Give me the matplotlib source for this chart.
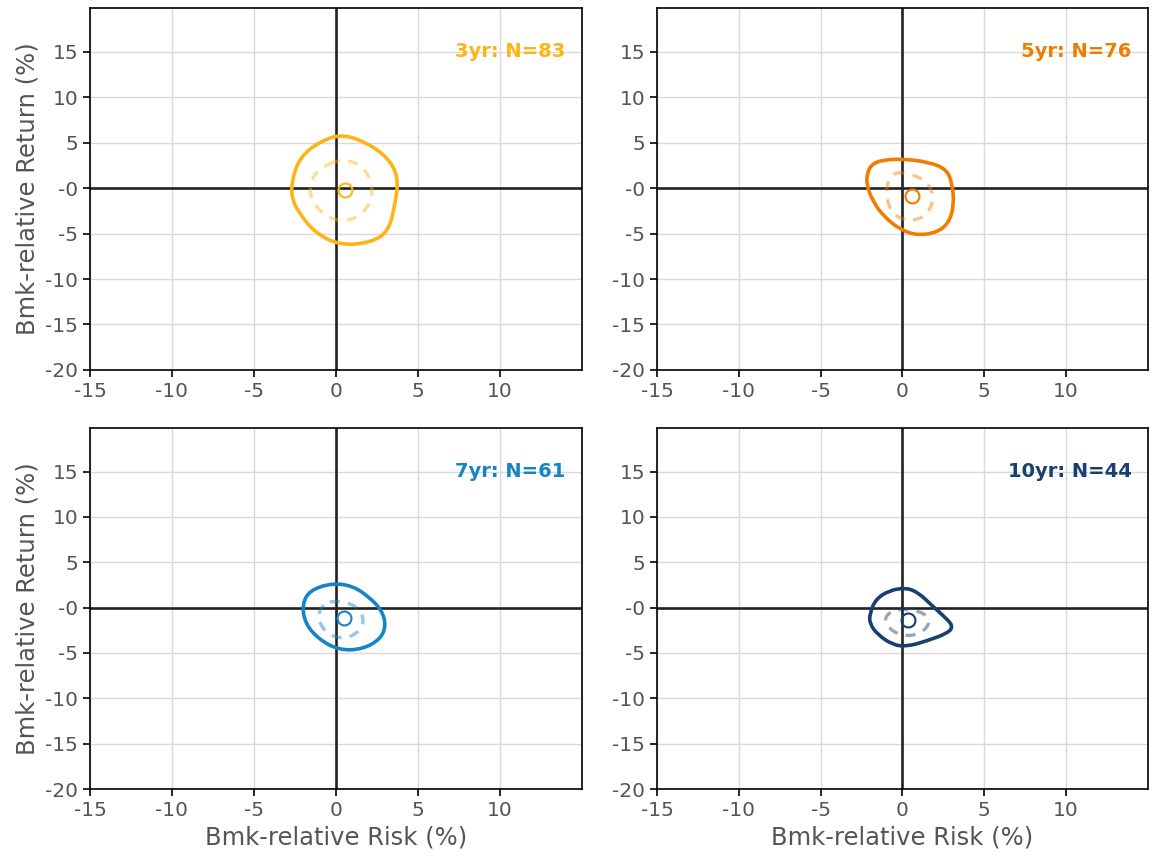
import numpy as np
import matplotlib
matplotlib.use("Agg")
import matplotlib.pyplot as plt
from matplotlib.path import Path
from matplotlib.patches import PathPatch

# panel labels and colours
panels = ["3yr", "5yr", "7yr", "10yr"]
counts = [83, 76, 61, 44]
colors = ["#FDB515", "#F07D00", "#1585C5", "#183F6F"]

# centre of each distribution (risk, return)
center_x = [0.55, 0.6, 0.5, 0.35]
center_y = [-0.2, -0.9, -1.1, -1.4]

# outer contour
outer_x = [
    [0.43, 2.3, 3.4, 3.8, 3.6, 3.2, 2.1, 0.25, -1.3, -2.3, -2.7, -2.7, -2.2, -1.0],
    [0.0, 1.5, 2.7, 3.05, 3.15, 2.85, 2.1, 0.9, -0.1, -1.1, -1.8, -2.2, -2.15, -1.9, -1.2],
    [-0.25, 1.0, 2.0, 2.8, 3.05, 2.7, 1.6, 0.2, -1.05, -1.9, -2.05, -1.6],
    [0.25, 1.0, 1.7, 2.5, 3.1, 2.8, 1.45, 0.25, -0.6, -1.5, -2.0, -2.0, -1.65, -0.8],
]
outer_y = [
    [6.0, 4.6, 2.8, 0.8, -1.8, -4.8, -6.0, -6.3, -4.9, -2.6, -1.1, 0.8, 3.4, 5.1],
    [3.2, 2.9, 2.1, 0.4, -1.8, -3.8, -4.9, -5.2, -4.6, -3.2, -1.5, 0.4, 1.6, 2.6, 3.1],
    [2.7, 2.4, 1.2, -0.3, -2.0, -3.5, -4.6, -4.7, -3.5, -1.7, 0.4, 1.9],
    [2.2, 1.6, 0.4, -0.9, -2.0, -2.8, -3.7, -4.3, -4.1, -3.0, -1.8, -0.7, 0.9, 1.9],
]

# inner (dashed) contour
inner_x = [
    [0.45, 1.75, 2.3, 1.95, 0.45, -1.2, -1.7, -1.15],
    [-0.15, 1.5, 1.95, 1.5, 0.5, -0.6, -1.05, -0.8],
    [0.05, 1.3, 1.75, 1.4, 0.5, -0.6, -1.15, -0.8],
    [0.25, 1.35, 1.7, 1.25, 0.35, -0.6, -1.15, -0.75],
]
inner_y = [
    [3.3, 2.3, 0.0, -2.4, -4.0, -2.4, -0.1, 2.1],
    [1.9, 0.9, -1.1, -3.0, -3.7, -3.0, -0.7, 1.2],
    [0.8, 0.2, -1.4, -2.7, -3.5, -2.9, -1.1, 0.4],
    [-0.1, -0.6, -1.6, -2.7, -3.2, -2.7, -1.4, -0.4],
]

x_ticks = [-15, -10, -5, 0, 5, 10]
x_labels = ["-15", "-10", "-5", "0", "5", "10"]
y_ticks = [-20, -15, -10, -5, 0, 5, 10, 15]
y_labels = ["-20", "-15", "-10", "-5", "-0", "5", "10", "15"]


def smooth_closed(xs, ys):
    pts = np.column_stack([xs, ys])
    mids = (pts + np.roll(pts, -1, axis=0)) / 2
    verts = [mids[-1]]
    codes = [Path.MOVETO]
    for i in range(len(pts)):
        verts += [pts[i], mids[i]]
        codes += [Path.CURVE3, Path.CURVE3]
    return Path(verts, codes)


fig = plt.figure(figsize=(11.55, 8.58), dpi=100)
positions = [
    [0.0779, 0.5688, 0.4260, 0.4219],
    [0.5688, 0.5688, 0.4251, 0.4219],
    [0.0779, 0.0804, 0.4260, 0.4208],
    [0.5688, 0.0804, 0.4251, 0.4208],
]
grey = "#555555"

for i, name in enumerate(panels):
    ax = fig.add_axes(positions[i])
    ax.set_xlim(-15, 15)
    ax.set_ylim(-20, 19.8)
    ax.set_xticks(x_ticks)
    ax.set_xticklabels(x_labels)
    ax.set_yticks(y_ticks)
    ax.set_yticklabels(y_labels)
    ax.grid(True, color="#d9d9d9", lw=1)
    ax.set_axisbelow(True)
    ax.tick_params(labelsize=14.5, labelcolor=grey, length=5, width=1.2, color="black")
    for sp in ax.spines.values():
        sp.set_color("black")
        sp.set_linewidth(1.2)
    ax.axhline(0, color="#222222", lw=1.9, zorder=1)
    ax.axvline(0, color="#222222", lw=1.9, zorder=1)

    c = colors[i]
    ax.add_patch(PathPatch(smooth_closed(outer_x[i], outer_y[i]), fill=False,
                           edgecolor=c, lw=2.6, zorder=3))
    ax.add_patch(PathPatch(smooth_closed(inner_x[i], inner_y[i]), fill=False,
                           edgecolor=c, lw=2.4, alpha=0.45, linestyle=(0, (3, 2.5)),
                           zorder=3))
    ax.plot(center_x[i], center_y[i], "o", mfc="none", mec=c, ms=10, mew=1.5, zorder=4)

    ax.text(14, 15, f"{name}: N={counts[i]}", color=c, fontsize=14,
            fontweight="bold", ha="right", va="center")

    if i % 2 == 0:
        ax.set_ylabel("Bmk-relative Return (%)", fontsize=17.5, color=grey)
    if i >= 2:
        ax.set_xlabel("Bmk-relative Risk (%)", fontsize=17.5, color=grey)

fig.savefig("out.png", dpi=100)
